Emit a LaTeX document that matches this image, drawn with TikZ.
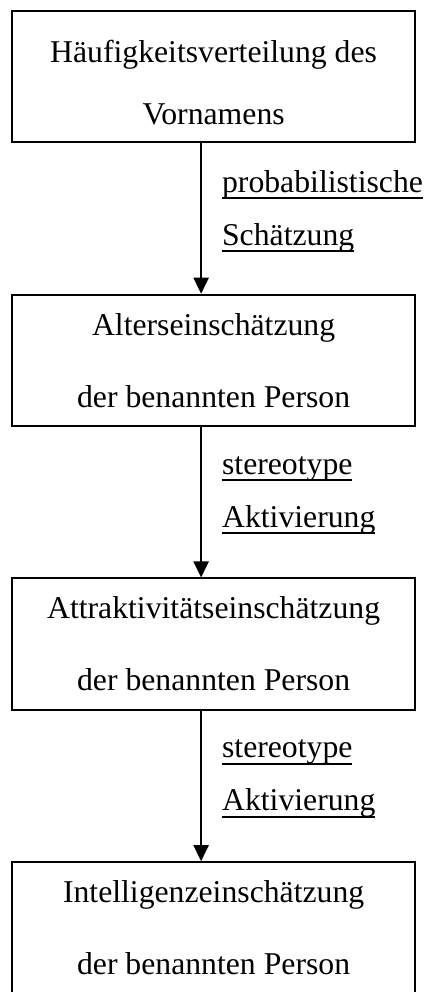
\documentclass[tikz,border=0pt]{standalone}
\usepackage{fontspec}
\setmainfont{Liberation Serif}
\usepackage{tikz}
\usetikzlibrary{arrows.meta}
\newcommand{\linkline}[1]{\setbox0\hbox{#1}\rlap{\rule[-3.5pt]{\wd0}{1pt}}\box0}

\begin{document}
\begin{tikzpicture}[>={Triangle[length=8pt,width=7.5pt]},line width=1pt,node distance=141.8pt,
  stage/.style={draw,minimum width=201.5pt,minimum height=65.5pt,align=center,inner sep=0pt,
    font=\fontsize{15.85pt}{36pt}\selectfont},
  link/.style={anchor=west,align=left,inner sep=0pt,xshift=10pt,yshift=3.5pt,
    font=\fontsize{15.85pt}{26.5pt}\selectfont}]
  \useasboundingbox (-106.75pt,38.25pt) rectangle (104.75pt,-457.5pt);
  \node[stage] (freq)                 {\rule{0pt}{17pt}Häufigkeitsverteilung des\\[-5pt]Vornamens};
  \node[stage] (age)   [below of=freq] {Alterseinschätzung\\der benannten Person};
  \node[stage] (attr)  [below of=age]  {Attraktivitätseinschätzung\\der benannten Person};
  \node[stage] (intel) [below of=attr] {Intelligenzeinschätzung\\der benannten Person};

  \path[->] ([xshift=-6.25pt]freq.south) edge node[link] {\linkline{probabilistische}\\\linkline{Schätzung}} ([xshift=-6.25pt]age.north)
        ([xshift=-6.25pt]age.south) edge node[link] {\linkline{stereotype}\\\linkline{Aktivierung}} ([xshift=-6.25pt]attr.north)
        ([xshift=-6.25pt]attr.south) edge node[link] {\linkline{stereotype}\\\linkline{Aktivierung}} ([xshift=-6.25pt]intel.north);
\end{tikzpicture}
\end{document}
